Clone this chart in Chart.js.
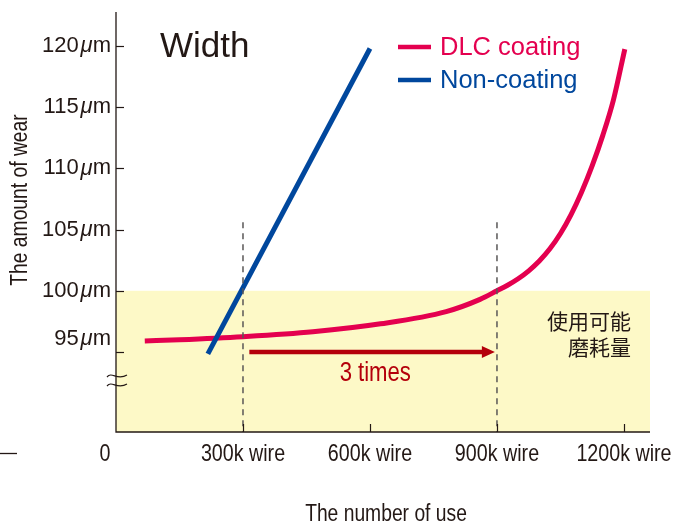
<!DOCTYPE html>
<html>
<head>
<meta charset="utf-8">
<script src="https://cdn.jsdelivr.net/npm/chart.js@4.4.0/dist/chart.umd.min.js"></script>
<style>
html,body{margin:0;padding:0;background:#fff;}
</style>
</head>
<body>
<canvas id="c" width="673" height="524"></canvas>
<script>
// wear of width (um) vs number of uses (k wire)
var dlcX = [68, 150, 300, 465, 625, 780, 860, 900, 925, 950, 975, 1000, 1025, 1050, 1075, 1100, 1125, 1150, 1175, 1202];
var dlcY = [95.9, 96.0, 96.25, 96.65, 97.3, 98.3, 99.3, 100.0, 100.45, 100.98, 101.63, 102.43, 103.43, 104.68, 106.23, 108.08, 110.23, 112.7, 115.58, 119.75];
var nonX = [217, 600];
var nonY = [94.85, 119.8];

var xTicks = [0, 300, 600, 900, 1200];
var xLabels = ['0', '300k wire', '600k wire', '900k wire', '1200k wire'];
var yTicks = [95, 100, 105, 110, 115, 120];
var yUnit = 'm';

var limitY = 100;          // usable wear
var markX = [300, 900];    // dashed markers
var markTop = 105.6;
var arrowFrom = 315, arrowTo = 895, arrowY = 95;

var red = '#e4004f', blue = '#00479d', dark = '#231815';
var sans = '"Liberation Sans", Arial, sans-serif';

function pts(xs, ys){
  var out = [];
  for(var i=0;i<xs.length;i++){ out.push({x: xs[i], y: ys[i]}); }
  return out;
}

// condensed look: squeeze Liberation Sans horizontally
function narrowText(ctx, text, x, y, size, align){
  ctx.save();
  ctx.translate(x, y);
  ctx.scale(0.82, 1);
  ctx.font = size + 'px ' + sans;
  ctx.textAlign = align;
  ctx.fillText(text, 0, 0);
  ctx.restore();
}

var extras = {
  id: 'extras',
  beforeDatasetsDraw: function(chart){
    var ctx = chart.ctx, xs = chart.scales.x, ys = chart.scales.y;
    // yellow usable zone
    ctx.save();
    ctx.fillStyle = '#fdf9c7';
    var top = ys.getPixelForValue(limitY);
    ctx.fillRect(xs.left, top, xs.right - xs.left, ys.bottom - top);
    ctx.restore();
  },
  afterDatasetsDraw: function(chart){
    var ctx = chart.ctx, xs = chart.scales.x, ys = chart.scales.y;
    ctx.save();
    // axes
    ctx.strokeStyle = dark;
    ctx.lineWidth = 1.3;
    ctx.beginPath();
    ctx.moveTo(xs.left, ys.top);
    ctx.lineTo(xs.left, ys.bottom);
    ctx.lineTo(xs.right, ys.bottom);
    ctx.stroke();
    // inside ticks
    ctx.lineWidth = 1.2;
    yTicks.forEach(function(v){
      var py = Math.round(ys.getPixelForValue(v)) + 0.5;
      ctx.beginPath(); ctx.moveTo(xs.left, py); ctx.lineTo(xs.left + 8, py); ctx.stroke();
    });
    xTicks.forEach(function(v){
      if(v === 0) return;
      var px = Math.round(xs.getPixelForValue(v)) + 0.5;
      ctx.beginPath(); ctx.moveTo(px, ys.bottom); ctx.lineTo(px, ys.bottom - 8); ctx.stroke();
    });
    // axis break
    [376, 385].forEach(function(py){
      ctx.beginPath();
      ctx.moveTo(xs.left - 9, py + 1);
      ctx.bezierCurveTo(xs.left - 4, py - 5, xs.left + 1, py + 5, xs.left + 11, py - 1);
      ctx.stroke();
    });
    // y tick labels
    ctx.fillStyle = dark;
    ctx.textBaseline = 'middle';
    yTicks.forEach(function(v){
      var py = ys.getPixelForValue(v);
      if(v === 95) py -= 13;
      var num = String(v);
      ctx.font = '22px ' + sans;
      var wm = ctx.measureText(yUnit).width;
      var wn = ctx.measureText(num).width;
      ctx.font = 'italic 22px ' + sans;
      var wu = ctx.measureText('\u03bc').width;
      var x0 = xs.left - 5 - wm - wu - wn - 2;
      ctx.textAlign = 'left';
      ctx.font = '22px ' + sans;
      ctx.fillText(num, x0, py);
      ctx.font = 'italic 22px ' + sans;
      ctx.fillText('\u03bc', x0 + wn + 2, py);
      ctx.font = '22px ' + sans;
      ctx.fillText(yUnit, x0 + wn + 2 + wu, py);
    });
    // x tick labels
    xTicks.forEach(function(v, i){
      var px = xs.getPixelForValue(v);
      if(v === 0) px -= 11;
      narrowText(ctx, xLabels[i], px, ys.bottom + 22, 24, 'center');
    });
    // stray dash at left
    ctx.lineWidth = 1.3;
    ctx.beginPath(); ctx.moveTo(0, 453.5); ctx.lineTo(17, 453.5); ctx.stroke();
    // axis titles
    narrowText(ctx, 'The number of use', 386, 515, 23.5, 'center');
    ctx.save();
    ctx.translate(21, 200);
    ctx.rotate(-Math.PI / 2);
    narrowText(ctx, 'The amount of wear', 0, 0, 23.5, 'center');
    ctx.restore();
    // title
    ctx.textAlign = 'left';
    ctx.font = '35px ' + sans;
    ctx.fillText('Width', 160, 47);
    // legend
    chart.data.datasets.forEach(function(ds){
      if(!ds.inLegend) return;
      var ly = 47 + (ds.inLegend - 1) * 33;
      ctx.strokeStyle = ds.borderColor;
      ctx.lineWidth = 4.5;
      ctx.beginPath(); ctx.moveTo(398, ly); ctx.lineTo(431, ly); ctx.stroke();
      ctx.fillStyle = ds.borderColor;
      ctx.font = '25.5px ' + sans;
      ctx.textAlign = 'left';
      ctx.fillText(ds.label, 440, ly + 1);
    });
    // arrow
    var ay = ys.getPixelForValue(arrowY);
    var a0 = xs.getPixelForValue(arrowFrom), a1 = xs.getPixelForValue(arrowTo);
    ctx.strokeStyle = '#b4000b';
    ctx.fillStyle = '#b4000b';
    ctx.lineWidth = 4.5;
    ctx.beginPath(); ctx.moveTo(a0, ay); ctx.lineTo(a1 - 10, ay); ctx.stroke();
    ctx.beginPath();
    ctx.moveTo(a1, ay); ctx.lineTo(a1 - 13, ay - 6); ctx.lineTo(a1 - 13, ay + 6); ctx.closePath(); ctx.fill();
    narrowText(ctx, '3', 346, 374, 27, 'center');
    narrowText(ctx, 'times', 358, 374, 27, 'left');
    // usable wear note
    ctx.fillStyle = dark;
    ctx.textAlign = 'right';
    ctx.font = '21px "Noto Sans CJK JP", sans-serif';
    ctx.fillText('\u4f7f\u7528\u53ef\u80fd', 631, 321);
    ctx.fillText('\u78e8\u8017\u91cf', 631, 347);
    ctx.restore();
  }
};

var ctx = document.getElementById('c').getContext('2d');
var chart = new Chart(ctx, {
  type: 'line',
  data: {
    datasets: [{
      label: 'marker',
      data: [{x: markX[0], y: markTop}, {x: markX[0], y: 88.46}, {x: null, y: null}, {x: markX[1], y: markTop}, {x: markX[1], y: 88.46}],
      borderColor: '#595757',
      borderWidth: 1.5,
      borderDash: [6, 5],
      pointRadius: 0,
      spanGaps: false,
      order: 0
    }, {
      label: 'Non-coating',
      inLegend: 2,
      data: pts(nonX, nonY),
      borderColor: blue,
      borderWidth: 5,
      pointRadius: 0,
      order: 1
    }, {
      label: 'DLC coating',
      inLegend: 1,
      data: pts(dlcX, dlcY),
      borderColor: red,
      borderWidth: 5,
      pointRadius: 0,
      cubicInterpolationMode: 'monotone',
      order: 2
    }]
  },
  options: {
    responsive: false,
    animation: false,
    layout: {padding: {left: 116, top: 12, right: 23, bottom: 92}},
    plugins: {legend: {display: false}, tooltip: {enabled: false}},
    scales: {
      x: {type: 'linear', display: false, min: 0, max: 1261.5},
      y: {type: 'linear', display: false, min: 88.46, max: 122.78}
    }
  },
  plugins: [extras]
});
</script>
</body>
</html>
